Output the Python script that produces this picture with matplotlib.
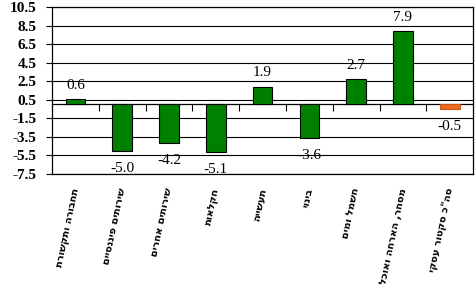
import numpy as np
import matplotlib
matplotlib.use("Agg")
import matplotlib.pyplot as plt

# --- data ---
categories = ["תחבורה ותקשורת", "שירותים פיננסיים", "שירותים אחרים", "חקלאות",
              "תעשייה", "בינוי", "חשמל ומים", "מסחר, הארחה ואוכל", 'סה"כ סקטור עסקי']
values = [0.6, -5.0, -4.2, -5.1, 1.9, -3.6, 2.7, 7.9, -0.5]
bar_colors = ["#008000"] * 8 + ["#EF6A1E"]
edge_colors = ["black"] * 8 + ["#C85414"]
yticks = [-7.5, -5.5, -3.5, -1.5, 0.5, 2.5, 4.5, 6.5, 8.5, 10.5]

fig = plt.figure(figsize=(4.77, 2.94), dpi=100)
ax = fig.add_axes([0.109, 0.408, 0.883, 0.568])

x = np.arange(len(categories))
ax.bar(x, values, width=0.42, color=bar_colors, edgecolor=edge_colors, linewidth=0.8, zorder=3)

ax.set_xlim(-0.5, len(categories) - 0.5)
ax.set_ylim(yticks[0], yticks[-1])
ax.set_yticks(yticks)
ax.set_yticklabels([f"{t:.1f}" for t in yticks], fontfamily="Liberation Serif",
                   fontweight="bold", fontsize=11)
ax.tick_params(axis="y", length=4, width=0.8, pad=7)
ax.yaxis.grid(True, color="black", linewidth=0.8)
ax.set_axisbelow(True)
for s in ax.spines.values():
    s.set_linewidth(0.9)

# category labels (Hebrew, reversed for visual order)
ax.set_xticks(x)
ax.set_xticklabels([c[::-1] for c in categories], rotation=78, rotation_mode="anchor",
                   ha="right", va="center", fontfamily="DejaVu Sans", fontweight="bold",
                   fontsize=7.3)
ax.tick_params(axis="x", length=0, pad=10)

# zero line with tick marks at category boundaries
y0, y1 = ax.get_ylim()
zax = ax.secondary_xaxis((0 - y0) / (y1 - y0))
zax.set_xticks(np.arange(len(categories) - 1) + 0.5)
zax.set_xticklabels([])
zax.tick_params(length=5, width=0.8, direction="out")
zax.spines["bottom"].set_linewidth(0.9)

# value labels
for xi, v in zip(x, values):
    off = 10 if v > 0 else -12.5
    ax.annotate(f"{v:.1f}", (xi, v), xytext=(0, off), textcoords="offset points",
                ha="center", va="center", fontfamily="Liberation Serif", fontsize=11,
                zorder=4)

fig.savefig("out.png", dpi=100)
